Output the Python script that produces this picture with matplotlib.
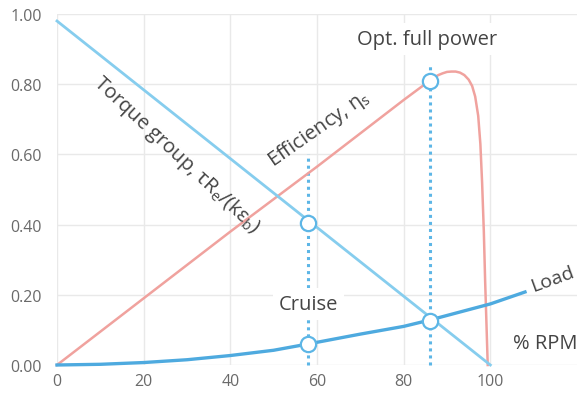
import matplotlib
matplotlib.use("Agg")
import matplotlib.pyplot as plt

plt.rcParams['font.family'] = ['Open Sans', 'DejaVu Sans']

# torque group: straight line
torque_x = [0, 100]
torque_y = [0.98, 0.0]

# efficiency curve
eff_x = [0, 20, 40, 60, 80, 86, 87, 88, 89, 90, 91, 92, 93, 94, 95, 95.8,
         96.5, 97.2, 97.7, 98.1, 98.5, 98.8, 99.1, 99.3, 99.4]
eff_y = [0, 0.19, 0.38, 0.565, 0.755, 0.81, 0.819, 0.826, 0.831, 0.835, 0.836, 0.836, 0.833, 0.826, 0.813, 0.795,
         0.765, 0.71, 0.63, 0.52, 0.38, 0.24, 0.12, 0.04, 0.0]

# load curve
load_x = [0, 10, 20, 30, 40, 50, 58, 70, 80, 86, 100, 108]
load_y = [0, 0.002, 0.007, 0.015, 0.027, 0.042, 0.06, 0.088, 0.11, 0.128, 0.174, 0.208]

# operating points
pt_x = [58, 58, 86, 86]
pt_y = [0.06, 0.405, 0.125, 0.81]

# dotted guides
guide_x = [58, 86]
guide_top = [0.60, 0.855]

xticks = [0, 20, 40, 60, 80, 100]
yticks = [0, 0.2, 0.4, 0.6, 0.8, 1.0]

c_torque = '#86cdee'
c_load = '#4eaadf'
c_eff = '#f0a29e'
c_dot = '#5db6e6'
c_text = '#444444'

fig = plt.figure(figsize=(5.77, 4.02), dpi=100)
ax = fig.add_axes([57/577, 36/402, 1 - 57/577, 351/402])

ax.set_xlim(0, 120)
ax.set_ylim(0, 1.0)
for s in ax.spines.values():
    s.set_visible(False)
ax.set_xticks(xticks)
ax.set_yticks(yticks)
ax.set_yticklabels(['%.2f' % v for v in yticks])
ax.tick_params(length=0, colors='#6a6a6a', labelsize=11.5)
ax.tick_params(axis='y', pad=11)
ax.tick_params(axis='x', pad=6)
ax.grid(True, color='#e9e9e9', linewidth=1)
ax.set_axisbelow(True)

for gx, gt in zip(guide_x, guide_top):
    ax.plot([gx, gx], [0, gt], color=c_dot, linestyle=(0, (1, 1.3)), linewidth=2.2, zorder=2, clip_on=False)

ax.plot(eff_x, eff_y, color=c_eff, linewidth=1.8, zorder=3, clip_on=False)
ax.plot(torque_x, torque_y, color=c_torque, linewidth=2.0, zorder=3, clip_on=False)
ax.plot(load_x, load_y, color=c_load, linewidth=2.4, zorder=4, clip_on=False)

ax.plot(pt_x, pt_y, 'o', markersize=11, markerfacecolor='white', markeredgecolor=c_dot,
        markeredgewidth=1.6, zorder=6, clip_on=False)

fs = 14.5
box = dict(boxstyle='square,pad=0.3', facecolor='white', edgecolor='none')
ax.text(85.5, 0.93, 'Opt. full power', ha='center', va='center', fontsize=fs, color=c_text, bbox=box, zorder=7)
ax.text(58, 0.174, 'Cruise', ha='center', va='center', fontsize=fs, color=c_text, bbox=box, zorder=7)
ax.text(105.3, 0.062, '% RPM', ha='left', va='center', fontsize=fs, color=c_text, zorder=7, clip_on=False)
ax.text(114.3, 0.245, 'Load', ha='center', va='center', fontsize=14, color=c_text, rotation=20, zorder=7)
ax.text(60.5, 0.675, r'Efficiency, η$_\mathregular{s}$', ha='center', va='center', fontsize=fs,
        color=c_text, rotation=35, rotation_mode='anchor', zorder=7)
ax.text(27.5, 0.6, r'Torque group, τR$_\mathregular{e}$/(kε$_\mathregular{b}$)', ha='center', va='center',
        fontsize=fs, color=c_text, rotation=-43, rotation_mode='anchor', zorder=7)

fig.savefig('out.png', dpi=100)
